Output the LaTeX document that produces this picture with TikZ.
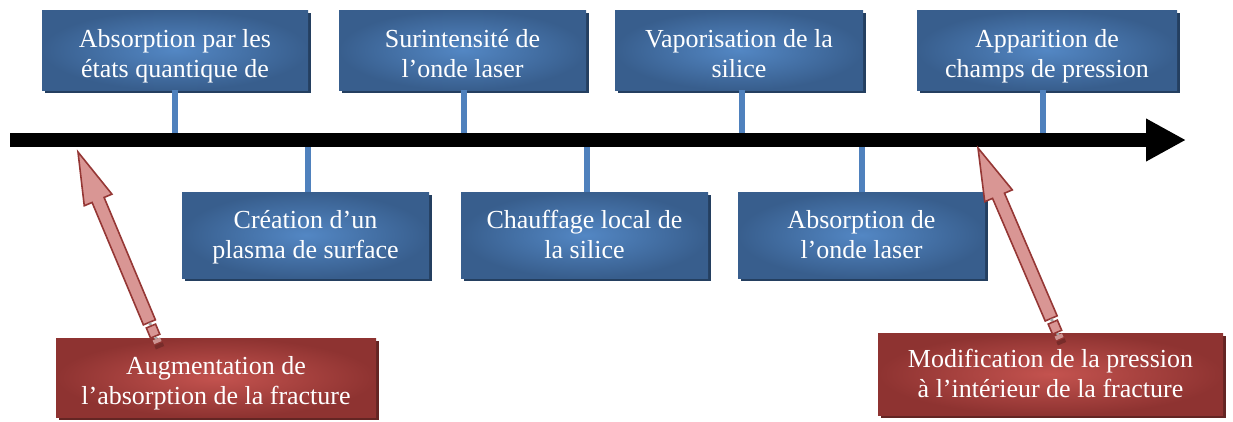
\documentclass[tikz,border=0pt]{standalone}
\usepackage{fontspec}
\setmainfont{Liberation Serif}
\usetikzlibrary{calc,shadows,arrows.meta}
\definecolor{blueC}{HTML}{5387C4}
\definecolor{blueE}{HTML}{385E8D}
\definecolor{blueS}{HTML}{243F60}
\definecolor{stemC}{HTML}{4F81BD}
\definecolor{redC}{HTML}{C4534F}
\definecolor{redE}{HTML}{8E3331}
\definecolor{redS}{HTML}{632523}
\definecolor{pinkF}{HTML}{D99694}
\definecolor{pinkD}{HTML}{953735}
\tikzset{
  boxbase/.style={text=white, align=center, inner sep=0pt,
    font=\fontsize{26}{30}\selectfont, text height=53pt, text depth=7pt},
  lowtext/.style={text height=61pt},
  bluebox/.style={boxbase, shade, inner color=blueC, outer color=blueE,
    drop shadow={shadow xshift=3pt, shadow yshift=-3pt, fill=blueS, opacity=1}},
  redbox/.style={boxbase, shade, inner color=redC, outer color=redE,
    drop shadow={shadow xshift=3pt, shadow yshift=-3pt, fill=redS, opacity=1}},
  stem/.style={draw=stemC, line width=6pt},
  timeline/.style={line width=14pt, -{Triangle[length=40pt,width=40pt]}},
  pinkarr/.style={fill=pinkF, draw=pinkD, line width=1.6pt, line join=miter},
}
\newcommand\pinkarrow[2]{%
  \coordinate (#1s) at ($(#1)!30pt!(#2)$);
  \coordinate (#1h) at ($(#2)!52pt!(#1)$);
  \draw[pinkarr] ($(#1s)!6.5pt!90:(#2)$) -- ($(#1h)!6.5pt!90:(#2)$) -- ($(#1h)!15pt!90:(#2)$)
     -- (#2) -- ($(#1h)!15pt!-90:(#2)$) -- ($(#1h)!6.5pt!-90:(#2)$) -- ($(#1s)!6.5pt!-90:(#2)$) -- cycle;
  \draw[line width=3pt, draw=gray!70] ($(#1s)!-0.5pt!(#2)$) -- ($(#1s)!-3pt!(#2)$);
  \coordinate (#1q1) at ($(#1s)!-4pt!(#2)$);
  \coordinate (#1q2) at ($(#1s)!-15pt!(#2)$);
  \draw[pinkarr] ($(#1q1)!5pt!90:(#2)$) -- ($(#1q2)!5pt!-90:(#1)$) -- ($(#1q2)!5pt!90:(#1)$) -- ($(#1q1)!5pt!-90:(#2)$) -- cycle;
  \draw[line width=3pt, draw=gray!70] ($(#1s)!-16pt!(#2)$) -- ($(#1s)!-18pt!(#2)$);
  \draw[line width=8pt, draw=pinkF!85!gray] ($(#1s)!-18pt!(#2)$) -- ($(#1s)!-22pt!(#2)$);
  \draw[line width=9pt, draw=pinkD!80!black] ($(#1s)!-23.5pt!(#2)$) -- ($(#1s)!-27.5pt!(#2)$);
}
\begin{document}
\begin{tikzpicture}[x=1pt,y=-1pt]
\useasboundingbox (0,0) rectangle (1233,421);
% boxes
\node[bluebox, lowtext, minimum width=266pt, minimum height=80pt] (T1) at (175,50) {Absorption par les\\états quantique de};
\node[bluebox, lowtext, minimum width=247pt, minimum height=80pt] (T2) at (462.5,50) {Surintensité de\\l’onde laser};
\node[bluebox, lowtext, minimum width=248pt, minimum height=80pt] (T3) at (739,50) {Vaporisation de la\\silice};
\node[bluebox, lowtext, minimum width=260pt, minimum height=80pt] (T4) at (1047,50) {Apparition de\\champs de pression};
\node[bluebox, minimum width=247pt, minimum height=86pt] (B1) at (305.5,235) {Création d’un\\plasma de surface};
\node[bluebox, minimum width=247pt, minimum height=86pt] (B2) at (584.5,235) {Chauffage local de\\la silice};
\node[bluebox, minimum width=247pt, minimum height=86pt] (B3) at (861.5,235) {Absorption de\\l’onde laser};
\node[redbox, lowtext, minimum width=320pt, minimum height=79pt] (R1) at (216,377.5) {Augmentation de\\l’absorption de la fracture};
\node[redbox, minimum width=345pt, minimum height=82pt] (R2) at (1050.5,374) {Modification de la pression\\à l’intérieur de la fracture};
% stems
\coordinate (s1) at (175,140);
\coordinate (s2) at (464,140);
\coordinate (s3) at (742,140);
\coordinate (s4) at (1043,140);
\coordinate (u1) at (308,140);
\coordinate (u2) at (587,140);
\coordinate (u3) at (862,140);
\draw[stem] (s1 |- T1.south) -- (s1);
\draw[stem] (s2 |- T2.south) -- (s2);
\draw[stem] (s3 |- T3.south) -- (s3);
\draw[stem] (s4 |- T4.south) -- (s4);
\draw[stem] (u1 |- B1.north) -- (u1);
\draw[stem] (u2 |- B2.north) -- (u2);
\draw[stem] (u3 |- B3.north) -- (u3);
% timeline
\coordinate (a0) at (10,140);
\coordinate (a1) at (1186,140);
\draw[timeline] (a0) -- (a1);
% pink arrows
\coordinate (p1) at (161,350);
\coordinate (t1) at (78,152);
\coordinate (p2) at (1063,346);
\coordinate (t2) at (978,148);
\pinkarrow{p1}{t1}
\pinkarrow{p2}{t2}
\end{tikzpicture}
\end{document}
